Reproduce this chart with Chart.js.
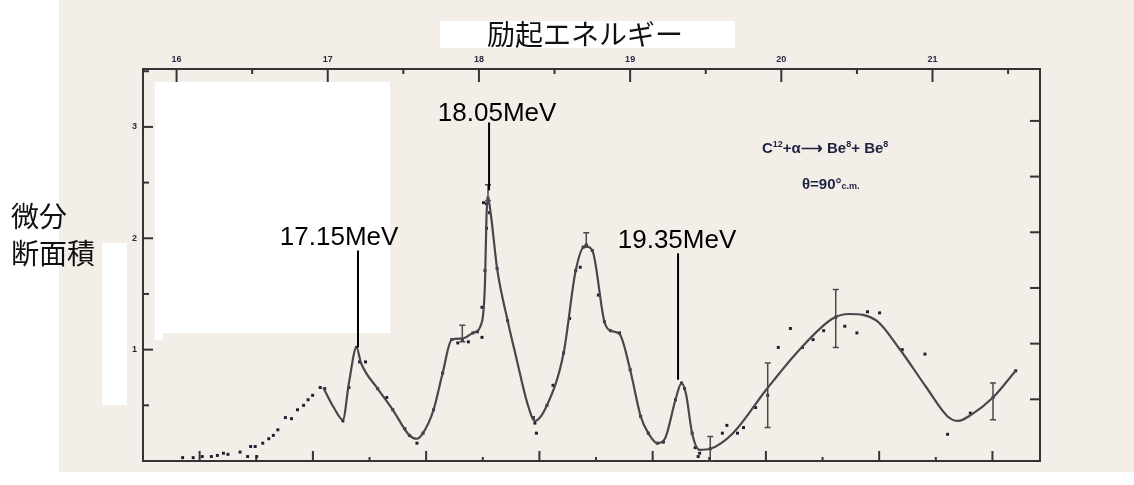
<!DOCTYPE html>
<html>
<head>
<meta charset="utf-8">
<script src="https://cdn.jsdelivr.net/npm/chart.js@4/dist/chart.umd.min.js"></script>
<style>
  body { margin: 0; background: #fff; }
  #wrap { position: relative; width: 1134px; height: 485px; overflow: hidden; }
  #paper { position: absolute; left: 59px; top: 0; width: 1075px; height: 472px; background: #f3efe8; }
  canvas { position: absolute; left: 0; top: 0; }
  .mask { position: absolute; background: #fff; }
  .jp { position: absolute; font-family: "Noto Sans CJK JP", sans-serif; color: #111; }
  .reaction { position: absolute; font-family: "Liberation Sans", Arial, sans-serif; font-weight: bold; color: #1d2240; white-space: nowrap; }
  .reaction sup { font-size: 9px; }
</style>
</head>
<body>
<div id="wrap">
  <div id="paper"></div>
  <div class="mask" style="left:440px;top:21px;width:295px;height:27px;"></div>
  <div class="mask" style="left:155px;top:82px;width:235px;height:251px;"></div>
  <div class="mask" style="left:155px;top:330px;width:8px;height:10px;"></div>
  <div class="mask" style="left:102px;top:243px;width:25px;height:162px;"></div>
  <canvas id="chart" width="1134" height="485"></canvas>
  <div class="jp" style="left:487px;top:16px;font-size:28px;line-height:34px;">励起エネルギー</div>
  <div class="jp" style="left:11px;top:197px;font-size:28px;line-height:37px;">微分<br>断面積</div>
  <div class="reaction" style="left:762px;top:139px;font-size:15px;">C<sup>12</sup>+α⟶ Be<sup>8</sup>+ Be<sup>8</sup></div>
  <div class="reaction" style="left:802px;top:175px;font-size:15px;">θ=90°<span style="font-size:9px;">c.m.</span></div>
</div>
<script>
// measured cross section points
const pointE = [16.04, 16.11, 16.17, 16.23, 16.27, 16.31, 16.34, 16.42, 16.47, 16.49, 16.52, 16.53,
  16.57, 16.61, 16.64, 16.67, 16.72, 16.76, 16.80, 16.84, 16.87, 16.90, 16.95, 16.98,
  17.10, 17.14, 17.19, 17.21, 17.25, 17.33, 17.39, 17.43, 17.51, 17.54, 17.59, 17.63,
  17.70, 17.76, 17.82, 17.86, 17.89, 17.93, 17.96, 17.99, 18.02, 18.02, 18.04, 18.05,
  18.05, 18.03, 18.06, 18.07, 18.12, 18.19, 18.36, 18.37, 18.38, 18.45, 18.49, 18.56,
  18.60, 18.64, 18.67, 18.69, 18.71, 18.75, 18.79, 18.83, 18.87, 18.93, 19.00, 19.07,
  19.12, 19.18, 19.22, 19.30, 19.34, 19.36, 19.41, 19.43, 19.45, 19.46, 19.53, 19.61,
  19.64, 19.71, 19.75, 19.83, 19.91, 19.98, 20.06, 20.14, 20.21, 20.28, 20.36, 20.42,
  20.50, 20.57, 20.65, 20.80, 20.95, 21.10, 21.25, 21.40, 21.55];
const pointSigma = [0.03, 0.03, 0.04, 0.04, 0.05, 0.07, 0.06, 0.08, 0.04, 0.13, 0.13, 0.04,
  0.16, 0.20, 0.23, 0.28, 0.39, 0.38, 0.46, 0.50, 0.55, 0.59, 0.66, 0.65,
  0.36, 0.66, 1.02, 0.89, 0.89, 0.65, 0.57, 0.46, 0.29, 0.23, 0.16, 0.25,
  0.46, 0.79, 1.09, 1.06, 1.09, 1.07, 1.15, 1.16, 1.11, 1.38, 1.71, 2.09,
  2.31, 2.32, 2.36, 2.23, 1.73, 1.26, 0.39, 0.34, 0.25, 0.50, 0.68, 0.97,
  1.28, 1.71, 1.74, 1.92, 1.94, 1.89, 1.49, 1.25, 1.17, 1.15, 0.82, 0.40,
  0.25, 0.16, 0.17, 0.55, 0.70, 0.65, 0.25, 0.12, 0.04, 0.07, 0.11, 0.25,
  0.32, 0.25, 0.30, 0.48, 0.59, 1.02, 1.19, 1.02, 1.09, 1.17, 1.29, 1.21,
  1.15, 1.34, 1.33, 1.00, 0.96, 0.24, 0.43, 0.57, 0.81];

// hand drawn fit curve
const fitE = [16.97, 17.04, 17.10, 17.14, 17.19, 17.22, 17.33, 17.43, 17.54, 17.59, 17.63, 17.70,
  17.76, 17.82, 17.89, 17.96, 18.02, 18.04, 18.05, 18.06, 18.08, 18.12, 18.19, 18.25,
  18.32, 18.37, 18.45, 18.56, 18.64, 18.70, 18.75, 18.83, 18.87, 18.93, 19.00, 19.07,
  19.12, 19.18, 19.23, 19.30, 19.34, 19.37, 19.41, 19.46, 19.53, 19.68, 19.90, 20.12,
  20.34, 20.45, 20.63, 20.78, 20.96, 21.10, 21.17, 21.25, 21.40, 21.55];
const fitSigma = [0.66, 0.48, 0.37, 0.70, 1.02, 0.88, 0.65, 0.46, 0.23, 0.20, 0.25, 0.46,
  0.79, 1.09, 1.10, 1.15, 1.25, 1.60, 2.20, 2.36, 2.20, 1.73, 1.26, 0.91,
  0.52, 0.36, 0.50, 0.97, 1.71, 1.93, 1.89, 1.25, 1.17, 1.14, 0.82, 0.40,
  0.25, 0.16, 0.20, 0.55, 0.70, 0.60, 0.25, 0.10, 0.11, 0.25, 0.64, 1.00,
  1.28, 1.32, 1.26, 1.01, 0.66, 0.40, 0.36, 0.41, 0.57, 0.81];

// error bars
const errE = [17.89, 18.06, 18.71, 19.53, 19.91, 20.36, 21.40];
const errLo = [1.07, 2.34, 1.92, 0.00, 0.30, 1.02, 0.37];
const errHi = [1.22, 2.48, 2.05, 0.22, 0.88, 1.54, 0.70];

// resonance labels
const peakNames = ['17.15MeV', '18.05MeV', '19.35MeV'];
const peakLineE = [17.20, 18.067, 19.317];
const peakLineTop = [1.89, 3.04, 1.865];
const peakLineBottom = [1.02, 2.43, 0.73];
const peakTextE = [17.075, 18.12, 19.31];
const peakTextY = [2.0, 3.12, 1.98];

const inkColor = '#333338';

const inwardTicks = {
  id: 'inwardTicks',
  afterDraw(chart) {
    const ctx = chart.ctx;
    const a = chart.chartArea;
    const s = chart.scales;
    ctx.save();
    ctx.strokeStyle = inkColor;
    ctx.lineWidth = 2;
    const seg = (x1, y1, x2, y2) => {
      ctx.beginPath();
      ctx.moveTo(x1, y1);
      ctx.lineTo(x2, y2);
      ctx.stroke();
    };
    s.x.ticks.forEach(t => {
      const px = s.x.getPixelForValue(t.value);
      seg(px, a.top, px, a.top + (Number.isInteger(t.value) ? 13 : 5));
    });
    s.xb.ticks.forEach(t => {
      if (t.value < 0) return;
      const px = s.xb.getPixelForValue(t.value);
      seg(px, a.bottom, px, a.bottom - (t.value % 2 === 0 ? 10 : 4));
    });
    s.y.ticks.forEach(t => {
      if (t.value <= 0) return;
      const py = s.y.getPixelForValue(t.value);
      seg(a.left, py, a.left + (Number.isInteger(t.value) ? 10 : 6), py);
    });
    s.y2.ticks.forEach(t => {
      if (t.value <= 0) return;
      const py = s.y2.getPixelForValue(t.value) - 6;
      if (py < a.top + 4) return;
      seg(a.right, py, a.right - 10, py);
    });
    ctx.restore();
  }
};

const extras = {
  id: 'extras',
  afterDatasetsDraw(chart) {
    const ctx = chart.ctx;
    const x = chart.scales.x;
    const y = chart.scales.y;
    ctx.save();
    ctx.strokeStyle = '#4a4a4e';
    ctx.lineWidth = 1.5;
    errE.forEach((e, i) => {
      const px = x.getPixelForValue(e);
      const lo = y.getPixelForValue(errLo[i]);
      const hi = y.getPixelForValue(errHi[i]);
      ctx.beginPath();
      ctx.moveTo(px, lo); ctx.lineTo(px, hi);
      ctx.moveTo(px - 3, lo); ctx.lineTo(px + 3, lo);
      ctx.moveTo(px - 3, hi); ctx.lineTo(px + 3, hi);
      ctx.stroke();
    });
    ctx.strokeStyle = '#000';
    ctx.lineWidth = 2;
    ctx.fillStyle = '#000';
    ctx.font = '26px "Liberation Sans", Arial, sans-serif';
    ctx.textAlign = 'center';
    ctx.textBaseline = 'middle';
    peakNames.forEach((name, i) => {
      const px = x.getPixelForValue(peakLineE[i]);
      ctx.beginPath();
      ctx.moveTo(px, y.getPixelForValue(peakLineTop[i]));
      ctx.lineTo(px, y.getPixelForValue(peakLineBottom[i]));
      ctx.stroke();
      ctx.fillText(name, x.getPixelForValue(peakTextE[i]), y.getPixelForValue(peakTextY[i]));
    });
    ctx.restore();
  }
};

const tickFont = { family: '"Liberation Sans", Arial, sans-serif', size: 9, weight: 'bold' };

new Chart(document.getElementById('chart'), {
  type: 'line',
  data: {
    datasets: [
      {
        data: fitE.map((e, i) => ({ x: e, y: fitSigma[i] })),
        borderColor: '#47474c',
        borderWidth: 2.2,
        pointRadius: 0,
        cubicInterpolationMode: 'monotone',
      },
      {
        data: pointE.map((e, i) => ({ x: e, y: pointSigma[i] })),
        showLine: false,
        pointStyle: 'rect',
        pointRadius: 2.1,
        pointBorderWidth: 0,
        pointBackgroundColor: '#1e1e30',
      },
    ],
  },
  options: {
    responsive: false,
    animation: false,
    layout: { padding: { left: 121, top: 51, right: 94, bottom: 24 } },
    plugins: { legend: { display: false }, tooltip: { enabled: false } },
    scales: {
      x: {
        type: 'linear',
        position: 'top',
        min: 15.778,
        max: 21.711,
        afterFit: s => { s.height = 18; },
        grid: { display: false, drawTicks: false },
        border: { display: true, color: inkColor, width: 2 },
        ticks: {
          stepSize: 0.5,
          includeBounds: false,
          autoSkip: false,
          maxRotation: 0,
          padding: 4,
          color: '#2a2a44',
          font: tickFont,
          callback: v => (Number.isInteger(v) ? v : ''),
        },
      },
      xb: {
        type: 'linear',
        position: 'bottom',
        min: -1.0,
        max: 14.84,
        afterFit: s => { s.height = 0; },
        grid: { display: false, drawTicks: false },
        border: { display: true, color: inkColor, width: 2 },
        ticks: { display: false, stepSize: 1, includeBounds: false },
      },
      y: {
        min: 0,
        max: 3.52,
        afterFit: s => { s.width = 22; },
        grid: { display: false, drawTicks: false },
        border: { display: true, color: inkColor, width: 2 },
        ticks: {
          stepSize: 0.5,
          includeBounds: false,
          autoSkip: false,
          padding: 6,
          color: '#2a2a44',
          font: tickFont,
          callback: v => (Number.isInteger(v) && v > 0 ? v : ''),
        },
      },
      y2: {
        position: 'right',
        min: 0,
        max: 3.52,
        afterFit: s => { s.width = 0; },
        grid: { display: false, drawTicks: false },
        border: { display: true, color: inkColor, width: 2 },
        ticks: { display: false, stepSize: 0.5, includeBounds: false },
      },
    },
  },
  plugins: [inwardTicks, extras],
});
</script>
</body>
</html>
